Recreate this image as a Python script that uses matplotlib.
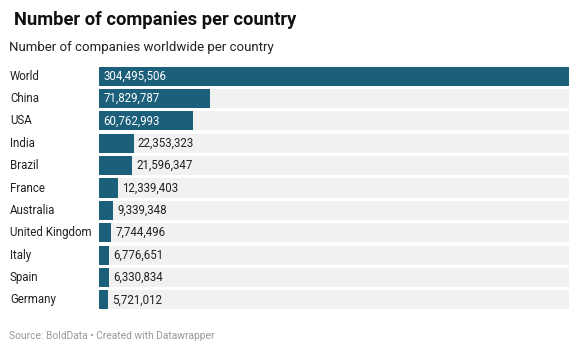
import matplotlib
matplotlib.use('Agg')
import matplotlib.pyplot as plt

# Dane
countries = ["World", "China", "USA", "India", "Brazil", "France", "Australia",
             "United Kingdom", "Italy", "Spain", "Germany"]
companies = [304495506, 71829787, 60762993, 22353323, 21596347, 12339403,
             9339348, 7744496, 6776651, 6330834, 5721012]

bar_color = '#1b5f7a'
bg_color = '#f1f1f1'
plt.rcParams['font.family'] = ['Roboto', 'DejaVu Sans']

fig = plt.figure(figsize=(5.8, 3.53), dpi=100)
ax = fig.add_axes([99 / 580, 1 - 311 / 353, 470 / 580, 246 / 353])

vmax = max(companies)
y = list(range(len(countries)))
ax.barh(y, [vmax] * len(countries), height=0.85, color=bg_color, linewidth=0)
ax.barh(y, companies, height=0.85, color=bar_color, linewidth=0)

ax.set_xlim(0, vmax)
ax.set_ylim(len(countries) - 0.5, -0.5)
ax.axis('off')

pad = vmax * 0.009
for i, (name, val) in enumerate(zip(countries, companies)):
    label = f"{val:,}"
    if val > vmax * 0.15:
        ax.text(pad, i, label, va='center', ha='left', color='white', fontsize=8.3)
    else:
        ax.text(val + pad, i, label, va='center', ha='left', color='#222222', fontsize=8.3)
    fig.text(10 / 580, 1 - (76 + i * 22.4) / 353, name, va='center', ha='left',
             color='#222222', fontsize=8.3)

fig.text(14 / 580, 1 - 20 / 353, "Number of companies per country", fontsize=13.2,
         fontweight='bold', va='center', ha='left', color='#111111')
fig.text(9 / 580, 1 - 48 / 353, "Number of companies worldwide per country",
         fontsize=9.5, va='center', ha='left', color='#222222')
fig.text(9 / 580, 1 - 336 / 353, "Source: BoldData \u2022 Created with Datawrapper",
         fontsize=7.4, va='center', ha='left', color='#999999')

fig.savefig('out.png', dpi=100)
